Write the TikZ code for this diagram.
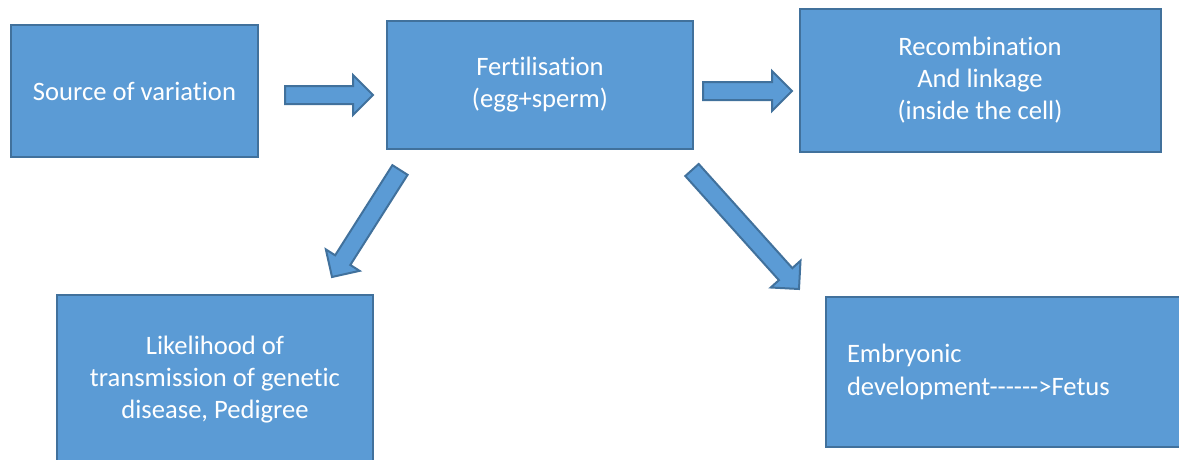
\documentclass[tikz,border=0pt]{standalone}
\usepackage{fontspec}
\setmainfont{Carlito}[Ligatures={TeXOff,CommonOff}]
\usetikzlibrary{calc}
\definecolor{boxfill}{HTML}{5B9BD5}
\definecolor{boxline}{HTML}{41719C}
\tikzset{
  box/.style={draw=boxline,fill=boxfill,line width=2pt,text=white,align=center,inner sep=0pt,font=\fontsize{26.6}{32}\selectfont},
  barrow/.style={draw=boxline,fill=boxfill,line width=2pt,line join=miter}
}
\newcommand{\blockarrow}[2]{%
  \draw[barrow] let \p1=($(#2)-(#1)$), \n1={atan2(\y1,\x1)}, \n2={veclen(\x1,\y1)} in
    [shift={(#1)},rotate=\n1] (0,-9)--(\n2-20,-9)--(\n2-20,-20)--(\n2,0)--(\n2-20,20)--(\n2-20,9)--(0,9)--cycle;}

\begin{document}
\begin{tikzpicture}[x=1pt,y=-1pt]
	\fill[white] (0,0) rectangle (1179,459);
	\useasboundingbox (0,0) rectangle (1179,459);
	\node[box,minimum width=247pt,minimum height=132pt] (src) at (134.5,91) {Source of variation};
	\node[box,minimum width=306pt,minimum height=128pt] (fert) at (540,85) {Fertilisation\\(egg+sperm)};
	\node[box,minimum width=361pt,minimum height=143pt] (recomb) at (980,80.5) {Recombination\\And linkage\\(inside the cell)};
	\node[box,minimum width=316pt,minimum height=170pt] (likely) at (215,380) {Likelihood of\\transmission of genetic\\disease, Pedigree};
	\node[box,align=left,text width=360pt,inner xsep=21pt,minimum height=150pt,font=\fontsize{26.6}{33}\selectfont] (embryo) at (1027,372) {Embryonic\\development------>Fetus};
	\coordinate (s1) at (285,95);   \coordinate (t1) at (373,95);
	\coordinate (s2) at (703,91);   \coordinate (t2) at (792,91);
	\coordinate (s3) at (400,170);  \coordinate (t3) at (332,277);
	\coordinate (s4) at (692,170);  \coordinate (t4) at (799,289);
	\blockarrow{s1}{t1}
	\blockarrow{s2}{t2}
	\blockarrow{s3}{t3}
	\blockarrow{s4}{t4}
\end{tikzpicture}
\end{document}
